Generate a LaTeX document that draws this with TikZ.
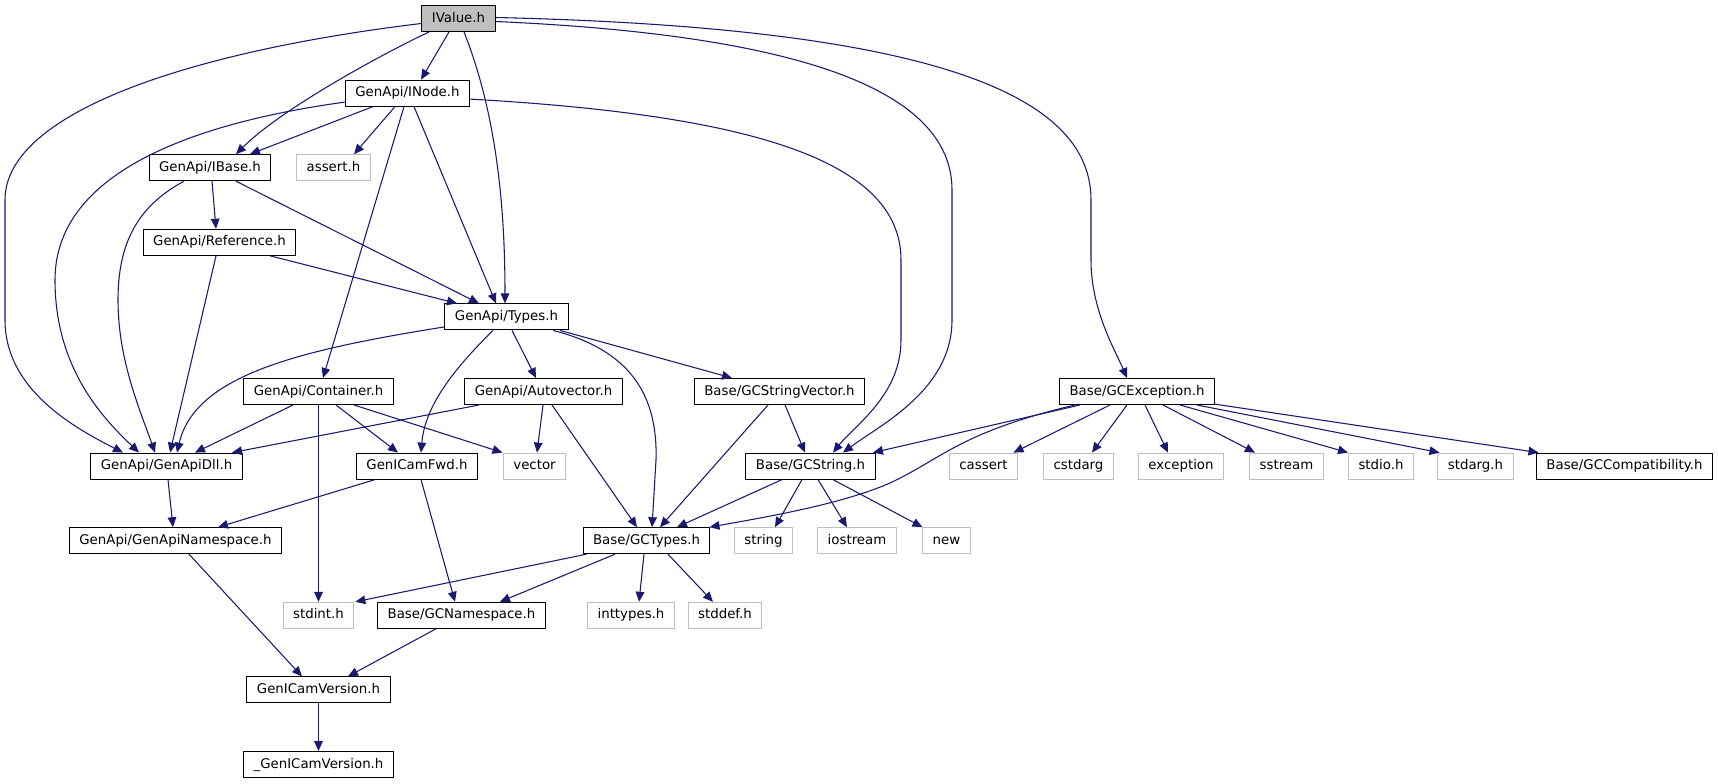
\documentclass[tikz,border=0pt]{standalone}
\usepackage{fontspec}
\setmainfont{DejaVu Sans}
\usetikzlibrary{arrows.meta,calc}
\definecolor{edgeblue}{HTML}{191970}
\definecolor{grey75}{HTML}{BFBFBF}
\tikzset{
	filebox/.style={draw=black, fill=white, line width=0.75pt, inner xsep=7.5pt, inner ysep=0pt,
		minimum height=19.5pt, text height=7.4pt, text depth=2.1pt, font=\fontsize{10pt}{12pt}\selectfont},
	sysbox/.style={filebox, draw=grey75},
	rootbox/.style={filebox, fill=grey75},
	dep/.style={draw=edgeblue, line width=0.8pt, -{Triangle[length=7.5pt,width=6.5pt]}},
}
\begin{document}
\begin{tikzpicture}[x=0.75pt,y=-0.75pt]
	\useasboundingbox (0,0) rectangle (1718,784);
	
	\node[rootbox] (ivalue) at (458.5,18.5) {IValue.h};
	\node[filebox] (inode) at (407.5,93.1) {GenApi/INode.h};
	\node[filebox] (ibase) at (210,167.7) {GenApi/IBase.h};
	\node[sysbox] (assert) at (333.5,167.7) {assert.h};
	\node[filebox] (reference) at (219.5,242.3) {GenApi/Reference.h};
	\node[filebox] (types) at (506.5,316.9) {GenApi/Types.h};
	\node[filebox] (container) at (318.5,391.5) {GenApi/Container.h};
	\node[filebox] (autovector) at (543.5,391.5) {GenApi/Autovector.h};
	\node[filebox] (gcstringvector) at (779.5,391.5) {Base/GCStringVector.h};
	\node[filebox] (gcexception) at (1137,391.5) {Base/GCException.h};
	\node[filebox] (genapidll) at (166.5,466.1) {GenApi/GenApiDll.h};
	\node[filebox] (genicamfwd) at (417,466.1) {GenICamFwd.h};
	\node[sysbox] (vector) at (534.5,466.1) {vector};
	\node[filebox] (gcstring) at (810.5,466.1) {Base/GCString.h};
	\node[sysbox] (cassert) at (983.5,466.1) {cassert};
	\node[sysbox] (cstdarg) at (1078.5,466.1) {cstdarg};
	\node[sysbox] (exception) at (1181,466.1) {exception};
	\node[sysbox] (sstream) at (1286.5,466.1) {sstream};
	\node[sysbox] (stdio) at (1381,466.1) {stdio.h};
	\node[sysbox] (stdarg) at (1475.5,466.1) {stdarg.h};
	\node[filebox] (gccompat) at (1624.5,466.1) {Base/GCCompatibility.h};
	\node[filebox] (genapins) at (175.5,540.7) {GenApi/GenApiNamespace.h};
	\node[filebox] (gctypes) at (646.5,540.7) {Base/GCTypes.h};
	\node[sysbox] (string) at (763.5,540.7) {string};
	\node[sysbox] (iostream) at (857,540.7) {iostream};
	\node[sysbox] (new) at (946.5,540.7) {new};
	\node[sysbox] (stdint) at (318.5,615.3) {stdint.h};
	\node[filebox] (gcns) at (461.5,615.3) {Base/GCNamespace.h};
	\node[sysbox] (inttypes) at (631,615.3) {inttypes.h};
	\node[sysbox] (stddef) at (725,615.3) {stddef.h};
	\node[filebox] (genicamver) at (318.5,689.9) {GenICamVersion.h};
	\node[filebox] (genicamverb) at (318.5,764.5) {\_GenICamVersion.h};
	
	% IValue.h
	\draw[dep] ($(ivalue.west)+(0,5)$) .. controls (200,50) and (5,110) .. (5,200) -- (5,320)
		.. controls (5,390) and (75,428) .. ($(genapidll.north)+(-43.5,0)$);
	\draw[dep] ($(ivalue.south)+(-29.5,0)$) .. controls (380,55) and (280,110) .. ($(ibase.north)+(26,0)$);
	\draw[dep] ($(ivalue.south)+(-9.5,0)$) -- ($(inode.north)+(13.5,0)$);
	\draw[dep] ($(ivalue.south)+(5.5,0)$) .. controls (495,110) and (505,200) .. ($(types.north)+(-1.5,0)$);
	\draw[dep] ($(ivalue.east)+(0,3)$) .. controls (800,35) and (952,90) .. (952,190) -- (952,320)
		.. controls (952,390) and (880,425) .. ($(gcstring.north)+(32.5,0)$);
	\draw[dep] ($(ivalue.east)+(0,-1)$) .. controls (950,28) and (1091,100) .. (1091,200) -- (1091,260)
		.. controls (1091,310) and (1115,350) .. ($(gcexception.north)+(-10,0)$);
	
	% GenApi/INode.h
	\draw[dep] ($(inode.west)+(0,9)$) .. controls (200,122) and (55,170) .. (55,280)
		.. controls (55,370) and (105,420) .. ($(genapidll.north)+(-27.5,0)$);
	\draw[dep] ($(inode.south)+(-34.5,0)$) -- ($(ibase.north)+(40,0)$);
	\draw[dep] ($(inode.south)+(-12.5,0)$) -- ($(assert.north)+(20.5,0)$);
	\draw[dep] ($(inode.south)+(-3.5,0)$) -- ($(container.north)+(4.5,0)$);
	\draw[dep] ($(inode.south)+(6.5,0)$) -- ($(types.north)+(-10.5,0)$);
	\draw[dep] ($(inode.east)+(0,6)$) .. controls (750,115) and (901,160) .. (901,260) -- (901,340)
		.. controls (901,395) and (855,425) .. ($(gcstring.north)+(22.5,0)$);
	
	% GenApi/IBase.h, GenApi/Reference.h
	\draw[dep] ($(ibase.south)+(2,0)$) -- ($(reference.north)+(-3.5,0)$);
	\draw[dep] ($(ibase.south)+(-26,0)$) .. controls (140,205) and (118,240) .. (118,300)
		.. controls (118,360) and (140,410) .. ($(genapidll.north)+(-11.5,0)$);
	\draw[dep] ($(ibase.south)+(26,0)$) -- ($(types.north)+(-27.5,0)$);
	\draw[dep] ($(reference.south)+(-3.5,0)$) -- ($(genapidll.north)+(3.5,0)$);
	\draw[dep] ($(reference.south)+(50.5,0)$) -- ($(types.north)+(-49.5,0)$);
	
	% GenApi/Types.h
	\draw[dep] ($(types.west)+(0,10)$) .. controls (300,350) and (195,375) .. ($(genapidll.north)+(10.5,0)$);
	\draw[dep] ($(types.south)+(-13.5,0)$) .. controls (455,368) and (425,405) .. ($(genicamfwd.north)+(4,0)$);
	\draw[dep] ($(types.south)+(5.5,0)$) -- ($(autovector.north)+(-7.5,0)$);
	\draw[dep] ($(types.south)+(46.5,0)$) .. controls (630,350) and (658,395) .. (656,460) -- ($(gctypes.north)+(5.5,0)$);
	\draw[dep] ($(types.south)+(53.5,0)$) -- ($(gcstringvector.north)+(-47.5,0)$);
	
	% GenApi/Container.h, GenApi/Autovector.h, Base/GCStringVector.h
	\draw[dep] ($(container.south)+(-25.5,0)$) -- ($(genapidll.north)+(28.5,0)$);
	\draw[dep] ($(container.south)+(17.5,0)$) -- ($(genicamfwd.north)+(-19,0)$);
	\draw[dep] ($(container.south)+(35.5,0)$) -- ($(vector.north)+(-32,0)$);
	\draw[dep] (container.south) -- (stdint.north);
	\draw[dep] ($(autovector.south)+(-64.5,0)$) -- ($(genapidll.north)+(65.5,0)$);
	\draw[dep] ($(autovector.south)+(-0.5,0)$) -- ($(vector.north)+(2.5,0)$);
	\draw[dep] ($(autovector.south)+(8.5,0)$) -- ($(gctypes.north)+(-9.5,0)$);
	\draw[dep] ($(gcstringvector.south)+(-11.5,0)$) -- ($(gctypes.north)+(13.5,0)$);
	\draw[dep] ($(gcstringvector.south)+(5.5,0)$) -- ($(gcstring.north)+(-5.5,0)$);
	
	% Base/GCException.h
	\draw[dep] ($(gcexception.south)+(-57,0)$) -- ($(gcstring.north)+(62.5,0)$);
	\draw[dep] ($(gcexception.south)+(-62,0)$) .. controls (960,432) and (940,460) .. (890,483)
		.. controls (840,505) and (760,518) .. ($(gctypes.north)+(63,0)$);
	\draw[dep] ($(gcexception.south)+(-27,0)$) -- ($(cassert.north)+(30,0)$);
	\draw[dep] ($(gcexception.south)+(-10,0)$) -- ($(cstdarg.north)+(13.5,0)$);
	\draw[dep] ($(gcexception.south)+(8,0)$) -- ($(exception.north)+(-13,0)$);
	\draw[dep] ($(gcexception.south)+(26,0)$) -- ($(sstream.north)+(-31.5,0)$);
	\draw[dep] ($(gcexception.south)+(43,0)$) -- ($(stdio.north)+(-33,0)$);
	\draw[dep] ($(gcexception.south)+(60,0)$) -- ($(stdarg.north)+(-36,0)$);
	\draw[dep] ($(gcexception.south east)+(-1,-1)$) -- ($(gccompat.north)+(-86,0)$);
	
	% lower part
	\draw[dep] ($(genapidll.south)+(1.5,0)$) -- ($(genapins.north)+(-2.5,0)$);
	\draw[dep] ($(genicamfwd.south)+(-42,0)$) -- ($(genapins.north)+(42.5,0)$);
	\draw[dep] ($(genicamfwd.south)+(4,0)$) -- ($(gcns.north)+(-6.5,0)$);
	\draw[dep] ($(gcstring.south)+(-28.5,0)$) -- ($(gctypes.north)+(30.5,0)$);
	\draw[dep] ($(gcstring.south)+(-8.5,0)$) -- ($(string.north)+(11.5,0)$);
	\draw[dep] ($(gcstring.south)+(7.5,0)$) -- ($(iostream.north)+(-10,0)$);
	\draw[dep] ($(gcstring.south)+(22.5,0)$) -- ($(new.north)+(-24,0)$);
	\draw[dep] ($(gctypes.south)+(-60,0)$) -- ($(stdint.north east)+(1,0)$);
	\draw[dep] ($(gctypes.south)+(-31.5,0)$) -- ($(gcns.north)+(38.5,0)$);
	\draw[dep] ($(gctypes.south)+(-2.5,0)$) -- ($(inttypes.north)+(8,0)$);
	\draw[dep] ($(gctypes.south)+(21.5,0)$) -- ($(stddef.north)+(-12,0)$);
	\draw[dep] ($(genapins.south)+(13.5,0)$) -- ($(genicamver.north)+(-16.5,0)$);
	\draw[dep] ($(gcns.south)+(-25.5,0)$) -- ($(genicamver.north)+(29.5,0)$);
	\draw[dep] (genicamver.south) -- (genicamverb.north);
\end{tikzpicture}
\end{document}
